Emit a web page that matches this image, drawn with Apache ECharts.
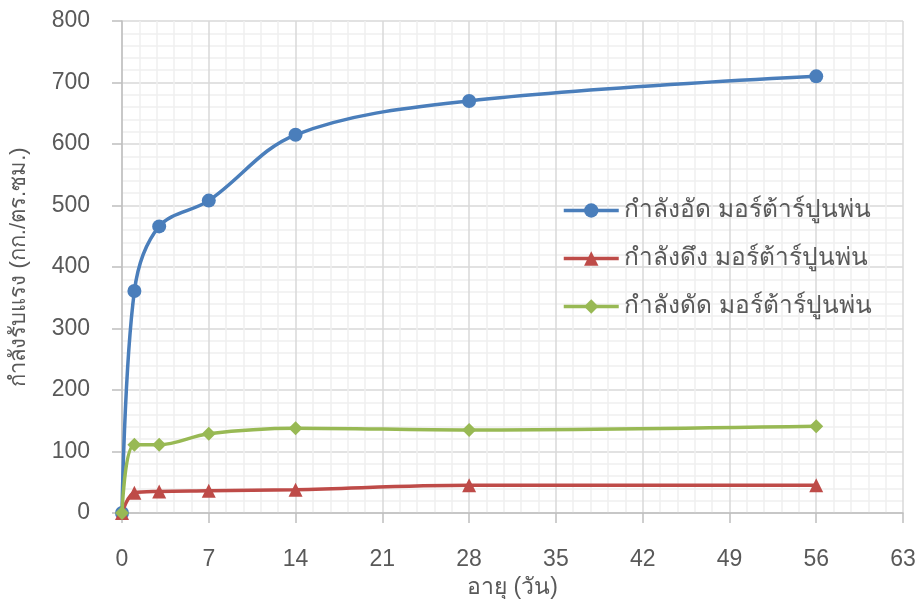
<!DOCTYPE html>
<html><head><meta charset="utf-8">
<script src="https://cdn.jsdelivr.net/npm/echarts@6/dist/echarts.min.js"></script>
<style>html,body{margin:0;padding:0;background:#fff}#c{width:919px;height:599px}</style>
</head><body><div id="c"></div>
<script>
const days = [0, 1, 3, 7, 14, 28, 56];
const compressive = [0, 361, 466, 508, 615, 670, 710];
const tensile = [0, 33, 35, 36, 38, 45, 45];
const flexural = [0, 111, 111, 129, 138, 135, 141];
const seriesNames = ['กำลังอัด มอร์ต้าร์ปูนพ่น', 'กำลังดึง มอร์ต้าร์ปูนพ่น', 'กำลังดัด มอร์ต้าร์ปูนพ่น'];
const xAxisName = 'อายุ (วัน)';
const yAxisName = 'กำลังรับแรง (กก./ตร.ซม.)';

const font = "'Liberation Sans', 'Noto Sans', Arial, sans-serif";
const colors = ['#4A7EBB', '#BE4B48', '#98B954'];
const symbols = ['circle', 'triangle', 'diamond'];
const symbolSizes = [14, 14, 14];
const values = [compressive, tensile, flexural];

const chart = echarts.init(document.getElementById('c'));
chart.setOption({
  animation: false,
  textStyle: {fontFamily: font},
  grid: {left: 122, right: 16, top: 21, bottom: 86, containLabel: false, outerBoundsMode: 'none'},
  legend: {
    orient: 'vertical', left: 557, top: 193, itemGap: 23,
    itemWidth: 55, itemHeight: 18,
    lineStyle: {width: 3.5},
    textStyle: {fontSize: 24.5, color: '#595959', fontFamily: font},
    data: seriesNames
  },
  xAxis: {
    type: 'value', min: 0, max: 63, interval: 7,
    name: xAxisName, nameLocation: 'middle', nameGap: 61,
    nameTextStyle: {fontSize: 23, color: '#595959'},
    axisLine: {show: true, onZero: false, lineStyle: {color: '#BFBFBF', width: 1.5}},
    axisTick: {show: true, length: 10, lineStyle: {color: '#BFBFBF', width: 1.5}},
    axisLabel: {fontSize: 23, color: '#595959', margin: 35},
    splitLine: {show: true, lineStyle: {color: '#D9D9D9', width: 1.5}},
    minorTick: {show: false, splitNumber: 5},
    minorSplitLine: {show: true, lineStyle: {color: '#F0F0F0', width: 1.5}}
  },
  yAxis: {
    type: 'value', min: 0, max: 800, interval: 100,
    name: yAxisName, nameLocation: 'middle', nameGap: 92,
    nameTextStyle: {fontSize: 22, color: '#595959'},
    axisLine: {show: true, lineStyle: {color: '#BFBFBF', width: 1.5}},
    axisTick: {show: true, length: 10, lineStyle: {color: '#BFBFBF', width: 1.5}},
    axisLabel: {fontSize: 23, color: '#595959', margin: 32},
    splitLine: {show: true, lineStyle: {color: '#D9D9D9', width: 1.5}},
    minorTick: {show: false, splitNumber: 5},
    minorSplitLine: {show: true, lineStyle: {color: '#F0F0F0', width: 1.5}}
  },
  series: seriesNames.map((n, i) => ({
    name: n, type: 'line', smooth: 0.35,
    data: days.map((d, j) => [d, values[i][j]]),
    symbol: symbols[i], symbolSize: symbolSizes[i],
    showAllSymbol: true,
    lineStyle: {color: colors[i], width: 3.5},
    itemStyle: {color: colors[i]},
    z: 2 + i
  }))
});
</script></body></html>
